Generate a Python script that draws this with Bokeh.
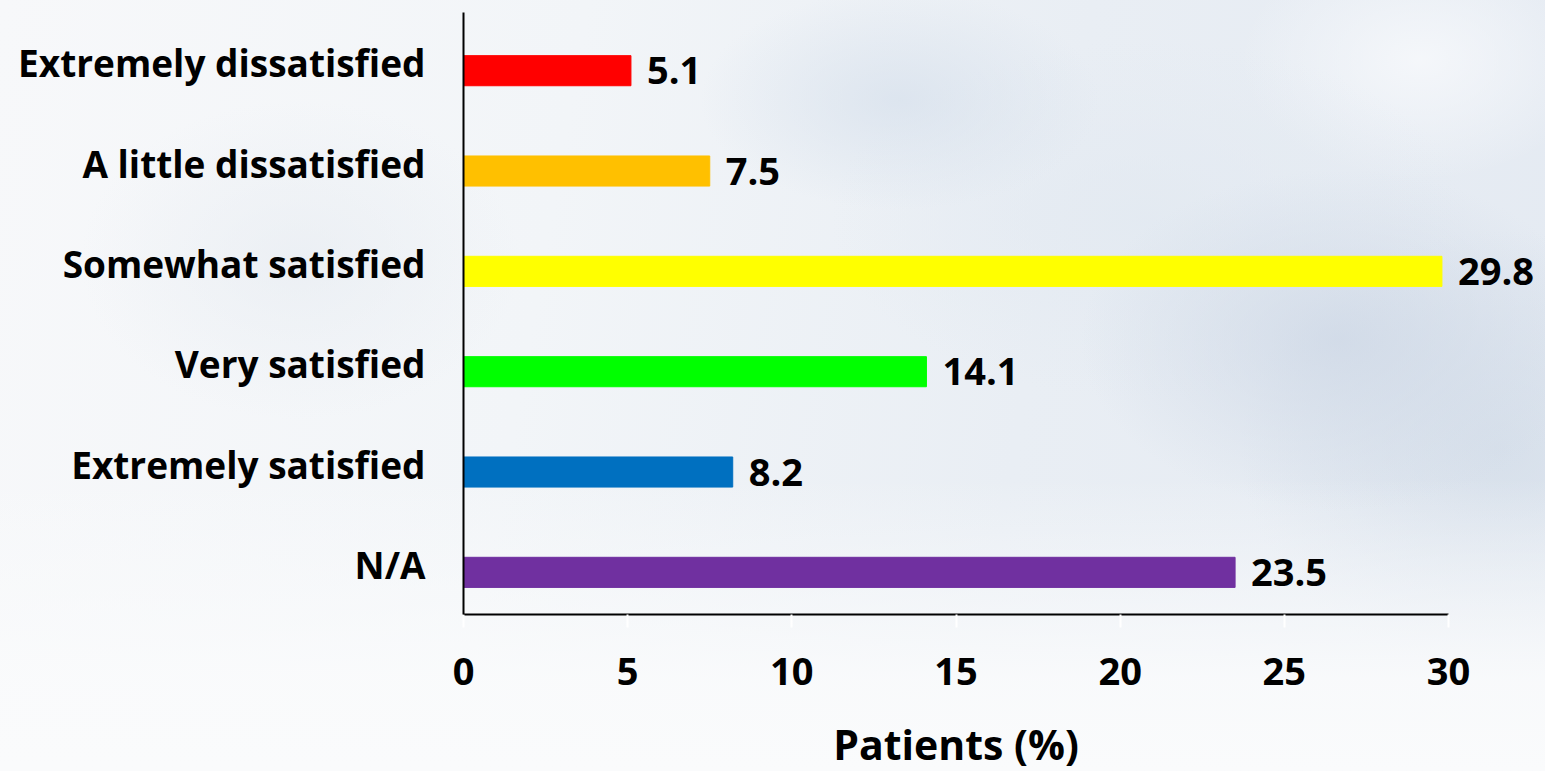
from bokeh.plotting import figure
from bokeh.layouts import column
from bokeh.models import ColumnDataSource, LabelSet, FactorRange, Range1d
from bokeh.transform import dodge
from bokeh.core.properties import value
from bokeh.embed import file_html
from bokeh.resources import INLINE

# Satisfaction categories, top to bottom
categories = [
    "Extremely dissatisfied",
    "A little dissatisfied",
    "Somewhat satisfied",
    "Very satisfied",
    "Extremely satisfied",
    "N/A",
]
percent = [5.1, 7.5, 29.8, 14.1, 8.2, 23.5]
bar_colors = ["#FF0000", "#FFC000", "#FFFF00", "#00FF00", "#0070C0", "#7030A0"]
x_ticks = [0, 5, 10, 15, 20, 25, 30]
x_title = "Patients (%)"

FONT = "Open Sans"
X_MAX = 30

# Frame geometry: the axis spans 0..30 over 985 px, the frame runs on to the
# right edge so that the value labels past the longest bar stay visible.
WIDTH, LEFT, AXIS_PX, RIGHT_EXTRA = 1545, 463, 985, 97
MAIN_H, TITLE_H = 700, 71
x_range = Range1d(0, X_MAX * (AXIS_PX + RIGHT_EXTRA) / AXIS_PX)

source = ColumnDataSource(dict(
    cat=categories,
    pct=percent,
    color=bar_colors,
    label=[f"{v:.1f}" for v in percent],
))

p = figure(
    width=WIDTH, height=MAIN_H,
    y_range=FactorRange(factors=list(reversed(categories))),
    x_range=x_range,
    output_backend="svg", toolbar_location=None,
    min_border_left=LEFT, min_border_right=0,
    min_border_top=12, min_border_bottom=MAIN_H - 614,
)
p.border_fill_alpha = 0
p.background_fill_alpha = 0
p.outline_line_color = None
p.grid.grid_line_color = None

p.hbar(
    y=dodge("cat", -0.08, range=p.y_range), right="pct", left=0, height=0.3,
    color="color", source=source,
)

labels = LabelSet(
    x="pct", y=dodge("cat", -0.08, range=p.y_range), text="label", source=source,
    x_offset=16, text_baseline="middle", text_align="left",
    text_font=value(FONT), text_font_style="bold", text_font_size="38px",
    text_color="black",
)
p.add_layout(labels)

# x axis, drawn only over 0..30
xa = p.xaxis[0]
xa.ticker = x_ticks
xa.bounds = (0, X_MAX)
xa.axis_line_color = "black"
xa.axis_line_width = 2
xa.major_tick_line_color = "white"
xa.major_tick_line_width = 2
xa.major_tick_out = 13
xa.major_tick_in = 0
xa.minor_tick_line_color = None
xa.major_label_standoff = 30
xa.major_label_text_font = FONT
xa.major_label_text_font_style = "bold"
xa.major_label_text_font_size = "38px"
xa.major_label_text_color = "black"

# y axis
ya = p.yaxis[0]
ya.axis_line_color = "black"
ya.axis_line_width = 2
ya.major_tick_line_color = None
ya.minor_tick_line_color = None
ya.major_label_standoff = 32
ya.major_label_text_font = FONT
ya.major_label_text_font_style = "bold"
ya.major_label_text_font_size = "37px"
ya.major_label_text_color = "black"

# Strip underneath carrying the x-axis title, sharing the x range so the title
# sits under the middle of the 0..30 span.
t = figure(
    width=WIDTH, height=TITLE_H,
    x_range=x_range, y_range=Range1d(-1, 1),
    x_axis_type=None, y_axis_type=None,
    output_backend="svg", toolbar_location=None,
    min_border_left=LEFT, min_border_right=0,
    min_border_top=0, min_border_bottom=0,
)
t.border_fill_alpha = 0
t.background_fill_alpha = 0
t.outline_line_color = None
t.grid.grid_line_color = None
t.text(
    x=[X_MAX / 2], y=[0], text=[x_title], y_offset=8,
    text_align="center", text_baseline="middle",
    text_font=value(FONT), text_font_style="bold", text_font_size="41px",
    text_color="black",
)

page = column(p, t, spacing=0)

# Sky-like backdrop behind both transparent canvases
page.styles = {
    "background-image": (
        "linear-gradient(180deg, rgba(250,251,252,0) 0%, rgba(250,251,252,0) 62%, rgba(250,251,252,0.9) 88%, rgba(250,251,252,1) 100%),"
        "radial-gradient(ellipse 260px 170px at 1340px 340px, rgba(206,216,230,0.8), rgba(206,216,230,0) 100%),"
        "radial-gradient(ellipse 260px 220px at 1500px 450px, rgba(210,220,232,0.75), rgba(210,220,232,0) 100%),"
        "radial-gradient(ellipse 200px 110px at 900px 100px, rgba(214,224,236,0.7), rgba(214,224,236,0) 100%),"
        "radial-gradient(ellipse 320px 180px at 1150px 220px, rgba(226,233,241,0.8), rgba(226,233,241,0) 100%),"
        "radial-gradient(ellipse 180px 120px at 1420px 60px, rgba(246,248,251,0.9), rgba(246,248,251,0) 100%),"
        "radial-gradient(ellipse 220px 160px at 300px 260px, rgba(230,235,241,0.6), rgba(230,235,241,0) 100%),"
        "linear-gradient(100deg, #f7f8fa 0%, #f2f5f8 35%, #e9eef4 65%, #e4eaf2 100%)"
    ),
    "width": f"{WIDTH}px",
    "height": f"{MAIN_H + TITLE_H}px",
}

open("out.html", "w").write(file_html(page, INLINE))
